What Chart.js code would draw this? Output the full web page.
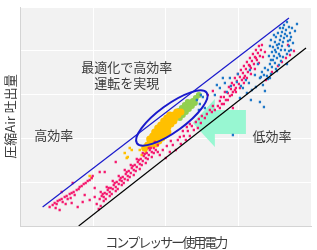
<!DOCTYPE html>
<html>
<head>
<meta charset="utf-8">
<script src="https://cdn.jsdelivr.net/npm/chart.js@4.4.1/dist/chart.umd.min.js"></script>
<style>
  html, body { margin: 0; padding: 0; background: #fff; }
  #wrap { width: 317px; height: 250px; }
</style>
</head>
<body>
<div id="wrap"><canvas id="c"></canvas></div>
<script>
// grid positions (no tick labels shown)
const xTicks = [0, 7.25, 14.5, 21.75, 29];
const yTicks = [0, 4.38, 8.76, 13.14, 17.52, 21.9];

// reference lines
const upperLine = [[2.2, 1.9], [26.8, 20.8]];
const lowerLine = [[5.8, 0], [28.5, 17.8]];

// scatter series [power, air]
const pinkPts = [
  // low-left trail near the upper line
  [2.9,1.9],[3.2,2.1],[3.4,2.3],[3.6,2.2],[3.7,2.5],[3.9,2.6],[4.1,2.7],[4.2,2.4],[4.4,2.9],[4.6,3.0],
  [4.7,2.7],[4.9,3.2],[5.1,3.3],[5.3,3.4],[5.4,3.1],[5.6,3.6],[5.8,3.7],[5.9,3.9],[6.1,4.0],[6.3,4.2],
  [6.5,4.3],[6.7,4.5],[6.9,4.6],[7.1,4.8],[3.9,1.6],[4.1,3.4],[5.1,2.3],[5.2,4.3],[6.2,2.4],[6.4,3.1],
  [7.4,3.8],[7.9,5.4],[8.4,5.4],[9.5,6.4],[7.2,5.0],[5.7,1.9],[6.9,2.6],[3.5,1.8],[4.5,2.2],[5.0,2.8],
  // lower band
  [7.9,2.7],[8.1,3.0],[8.3,2.9],[8.4,3.3],[8.6,3.2],[8.7,3.6],[8.9,3.4],[9.0,3.8],[9.2,3.7],[9.3,4.1],
  [9.5,3.9],[9.6,4.4],[9.8,4.2],[9.9,4.6],[10.1,4.5],[10.2,4.9],[10.4,4.7],[10.5,5.2],[10.7,5.0],[10.8,5.5],
  [11.0,5.3],[11.1,5.8],[11.3,5.6],[11.4,6.1],[11.6,5.9],[11.7,6.4],[11.9,6.2],[12.0,6.7],[12.2,6.5],[12.3,7.0],
  [12.5,6.8],[12.6,7.3],[12.8,7.1],[12.9,7.6],[13.1,7.4],[13.3,7.8],[13.5,7.6],[13.7,8.1],
  [8.2,3.2],[8.8,3.8],[9.4,4.3],[10.0,4.8],[10.6,5.4],[11.2,6.0],[11.8,6.6],[12.4,7.2],[13.0,7.8],
  [8.5,2.7],[9.1,3.2],[9.7,3.7],[10.3,4.3],[10.9,4.9],[11.5,5.5],[12.1,6.1],[12.7,6.7],[13.3,7.3],
  [8.0,3.4],[8.6,3.9],[9.2,4.5],[9.8,5.0],[10.4,5.6],[11.0,6.1],[11.6,6.7],[12.2,7.3],[12.8,7.8],[13.4,8.4],
  [8.3,2.5],[8.9,3.0],[9.5,3.5],[10.1,4.1],[10.7,4.6],[11.3,5.1],[11.9,5.7],[12.5,6.3],[13.1,6.9],[13.7,7.4],
  [7.6,2.2],[7.8,1.7],[7.4,2.9],[8.0,2.0],
  // middle run along the lower line
  [13.9,7.1],[14.2,7.6],[14.5,6.8],[14.9,7.4],[15.2,8.1],[15.5,7.6],[15.7,8.6],[16.0,8.2],[16.3,9.0],
  [16.5,8.6],[16.7,9.5],[16.9,9.0],[17.1,10.0],[17.3,9.6],[17.5,10.4],
  [17.8,10.7],[18.1,11.0],[18.0,10.3],[18.6,11.2],[18.9,11.6],[19.2,12.0],[17.7,9.8],[16.9,10.2],
  [16.2,9.5],[15.9,8.9],[15.0,8.5],[14.6,8.0],[16.6,9.9],
  // upper band
  [19.7,12.0],[19.9,12.5],[20.1,12.2],[20.3,12.9],[20.5,12.6],[20.7,13.3],[20.9,13.0],[21.0,13.7],[21.2,13.4],
  [21.3,14.1],[21.5,13.8],[21.6,14.5],[21.8,14.2],[21.9,14.9],[22.1,14.6],[22.2,15.3],[22.4,15.0],[22.5,15.7],
  [22.7,15.4],[22.8,16.1],[23.0,15.8],[23.1,16.5],[23.3,16.2],[23.4,16.9],[23.6,16.6],[23.7,17.3],[23.9,17.0],
  [24.0,17.6],[21.4,13.6],[22.3,14.8],[22.9,16.0],[23.5,16.8],[19.4,11.6],[19.1,11.4],[21.2,11.8],[18.4,10.8],
  [19.2,13.5],[18.7,13.1],
  [20.0,12.9],[20.4,13.4],[20.8,13.9],[21.1,14.3],[21.4,14.8],[21.7,15.2],[22.0,15.6],[22.3,16.0],[22.6,16.4],
  [22.9,16.8],[23.2,17.2],[23.5,17.6],[23.8,18.0],[24.1,18.1],
  [19.9,11.8],[20.3,12.2],[20.7,12.6],[21.1,13.1],[21.5,13.4],[21.9,13.8],[22.3,14.3],[22.6,14.8],[23.0,15.2],
  [23.4,15.7],[23.8,16.3],[24.2,16.9],[24.4,17.4],
  // right, near the lower line
  [25.7,16.0],[26.1,16.4],[26.5,16.8],[26.9,17.1],[27.3,17.5],[26.7,18.1],[25.1,15.4],[24.5,14.6]
];
const bluePts = [
  [24.1,15.4],[24.4,15.8],[24.7,15.6],[24.9,16.2],[25.1,15.9],[25.2,16.6],[25.4,16.3],[25.3,17.0],[25.6,16.8],
  [25.5,17.4],[25.8,17.2],[25.7,17.8],[26.0,17.6],[25.8,18.2],[26.1,18.0],[25.9,18.6],[26.2,18.4],[26.0,19.0],
  [26.3,18.8],[26.1,19.4],[26.4,19.2],[26.2,19.8],[25.6,18.1],[25.4,17.6],[26.5,19.6],[27.1,19.8],[26.9,19.3],
  [26.6,19.0],[26.7,18.5],[26.8,18.0],[26.4,17.6],[26.6,17.2],[26.2,16.9],[26.0,16.5],[25.8,16.1],[25.5,15.7],
  [25.0,15.2],[24.6,15.0],[24.0,14.9],[24.3,15.1],[25.0,16.6],[24.8,17.0],[25.1,17.4],[25.2,17.9],[25.4,18.4],
  [25.5,18.9],[25.7,19.3],[25.9,19.8],[26.3,20.1],[26.6,20.4],[26.8,19.9],[27.0,18.9],[26.9,18.6],[25.3,19.1],
  [25.0,18.6],[24.9,18.0],[27.4,19.5],[27.6,20.2],[27.2,18.3],[26.8,17.5],[25.9,17.0],[25.6,15.5],[24.7,14.7],
  [23.9,14.8],[26.6,16.2],[27.0,17.6],
  // scattered between the bands
  [23.7,16.2],[23.4,15.1],[22.9,15.6],[22.5,14.6],[22.2,13.8],[21.6,14.4],[20.9,14.8],[20.4,14.3],[19.9,13.8],
  [19.4,13.1],[23.1,13.6],[23.9,12.4],[24.3,11.9],[21.2,9.1],[24.9,14.8],[24.2,14.1],
  [21.0,14.0],[21.7,15.2],[22.0,14.0],[22.8,14.3],[23.5,13.9],[22.6,13.3],[20.6,13.4],[21.9,12.8],[24.4,13.5],
  [23.0,12.6],[20.2,14.8],[19.6,14.1],
  // tip of the ellipse
  [17.6,12.6],[17.9,12.2],[18.2,12.9],[17.8,11.6],[18.4,11.8],[18.0,13.1]
];
const orangePts = [
  [12.4,7.8],[12.7,8.1],[13.0,8.4],[13.3,8.7],[13.6,9.0],[13.9,9.3],[14.2,9.6],[14.5,9.9],[14.8,10.2],
  [15.1,10.5],[15.4,10.8],[15.7,11.1],[16.0,11.4],
  [12.9,8.7],[13.2,9.0],[13.5,9.3],[13.8,9.6],[14.1,9.9],[14.4,10.2],[14.7,10.5],[15.0,10.8],[15.3,11.1],[15.6,11.4],
  [12.9,8.1],[13.2,8.4],[13.5,8.7],[13.8,9.0],[14.1,9.3],[14.4,9.6],[14.7,9.9],[15.0,10.2],[15.3,10.5],
  [13.4,9.4],[13.7,9.8],[14.0,10.1],[14.3,10.5],[14.6,10.8],[14.9,11.1],
  [13.5,8.2],[13.8,8.5],[14.1,8.8],[14.4,9.1],[14.7,9.4]
];
const orangeLoose = [
  [10.9,7.8],[10.4,7.3],[11.1,7.6],[10.6,6.8],[7.1,4.8],[6.9,5.0],[10.7,6.9],[11.9,7.6],[12.1,7.1],[12.5,7.4]
];
const greenPts = [
  [15.7,11.0],[16.0,11.3],[16.3,11.6],[16.6,11.9],[16.9,12.2],[17.2,12.5],[17.5,12.8],[17.8,13.1],
  [15.9,10.8],[16.2,11.1],[16.5,11.4],[16.8,11.7],[17.1,12.0],[17.4,12.3],
  [15.8,11.5],[16.1,11.8],[16.4,12.1],[16.7,12.4]
];

// annotations, in data units
const ellipseCenter = [15.1, 10.8];
const arrowShape = [[17.2,10.3],[19.4,12.7],[19.4,11.6],[22.5,11.6],[22.5,9.2],[19.4,9.2],[19.4,7.9]];
const labels = [
  ['最適化で高効率', 10.6, 15.9],
  ['運転を実現', 10.6, 14.3],
  ['高効率', 3.3, 9.1],
  ['低効率', 25.1, 9.0]
];
const xTitle = 'コンプレッサー使用電力';

const toXY = arr => arr.map(p => ({ x: p[0], y: p[1] }));
const FONT = '"Noto Sans CJK JP", "Noto Sans", sans-serif';
const TEXT = '#3c3c3c';

const decor = {
  id: 'decor',
  beforeDraw(chart) {
    const { ctx, chartArea: a } = chart;
    ctx.save();
    ctx.fillStyle = '#f2f2f2';
    ctx.fillRect(a.left, a.top, a.right - a.left, a.bottom - a.top);
    ctx.restore();
  },
  beforeDatasetsDraw(chart) {
    const { ctx, scales: { x, y } } = chart;
    ctx.save();
    ctx.fillStyle = '#98f7d2';
    ctx.beginPath();
    arrowShape.forEach((p, i) => {
      const px = x.getPixelForValue(p[0]), py = y.getPixelForValue(p[1]);
      if (i === 0) ctx.moveTo(px, py); else ctx.lineTo(px, py);
    });
    ctx.closePath();
    ctx.fill();
    ctx.restore();
  },
  afterDatasetsDraw(chart) {
    const { ctx, chartArea: a, scales: { x, y } } = chart;
    const cx = x.getPixelForValue(ellipseCenter[0]);
    const cy = y.getPixelForValue(ellipseCenter[1]);
    const unit = x.getPixelForValue(1) - x.getPixelForValue(0);
    ctx.save();
    ctx.strokeStyle = '#1a1acc';
    ctx.lineWidth = 2;
    ctx.beginPath();
    ctx.ellipse(cx, cy, 4.3 * unit, 1.35 * unit, -36 * Math.PI / 180, 0, Math.PI * 2);
    ctx.stroke();

    ctx.fillStyle = TEXT;
    ctx.font = '13px ' + FONT;
    ctx.textAlign = 'center';
    ctx.textBaseline = 'middle';
    labels.forEach(l => {
      ctx.fillText(l[0], x.getPixelForValue(l[1]), y.getPixelForValue(l[2]));
    });

    // x-axis title, katakana set a little tighter as in the original
    ctx.letterSpacing = '-2px';
    ctx.fillText(xTitle, (a.left + a.right) / 2, a.bottom + 16);
    ctx.restore();
  }
};

new Chart(document.getElementById('c'), {
  type: 'scatter',
  data: {
    datasets: [
      { data: toXY(upperLine), showLine: true, borderColor: '#1a1acc', borderWidth: 1.2, pointRadius: 0, order: 0 },
      { data: toXY(lowerLine), showLine: true, borderColor: '#000000', borderWidth: 1.2, pointRadius: 0, order: 1 },
      { data: toXY(bluePts), backgroundColor: '#1f78c8', pointStyle: 'rect', pointRadius: 1.6, borderWidth: 0, order: 2 },
      { data: toXY(pinkPts), backgroundColor: '#f5186e', pointStyle: 'rect', pointRadius: 1.6, borderWidth: 0, order: 3 },
      { data: toXY(orangeLoose), backgroundColor: '#ffc000', pointStyle: 'rect', pointRadius: 1.8, borderWidth: 0, order: 4 },
      { data: toXY(orangePts), backgroundColor: '#ffc000', pointRadius: 3.6, borderWidth: 0, order: 5 },
      { data: toXY(greenPts), backgroundColor: '#92d050', pointRadius: 3, borderWidth: 0, order: 6 }
    ]
  },
  options: {
    responsive: true,
    maintainAspectRatio: false,
    animation: false,
    events: [],
    layout: { padding: { top: 7, right: 6, bottom: 24, left: 2 } },
    plugins: {
      legend: { display: false },
      tooltip: { enabled: false }
    },
    scales: {
      x: {
        type: 'linear',
        min: 0,
        max: 29,
        afterBuildTicks: axis => { axis.ticks = xTicks.map(v => ({ value: v })); },
        ticks: { display: false },
        grid: { color: '#ffffff', lineWidth: 1, drawTicks: false },
        border: { display: true, color: '#d4d4d4' },
        title: { display: false }
      },
      y: {
        type: 'linear',
        min: 0,
        max: 21.9,
        afterBuildTicks: axis => { axis.ticks = yTicks.map(v => ({ value: v })); },
        ticks: { display: false },
        grid: { color: '#ffffff', lineWidth: 1, drawTicks: false },
        border: { display: true, color: '#d4d4d4' },
        title: {
          display: true,
          text: '圧縮Air 吐出量',
          color: TEXT,
          font: { family: FONT, size: 13 },
          padding: { top: 0, bottom: 3 }
        }
      }
    }
  },
  plugins: [decor]
});
</script>
</body>
</html>
